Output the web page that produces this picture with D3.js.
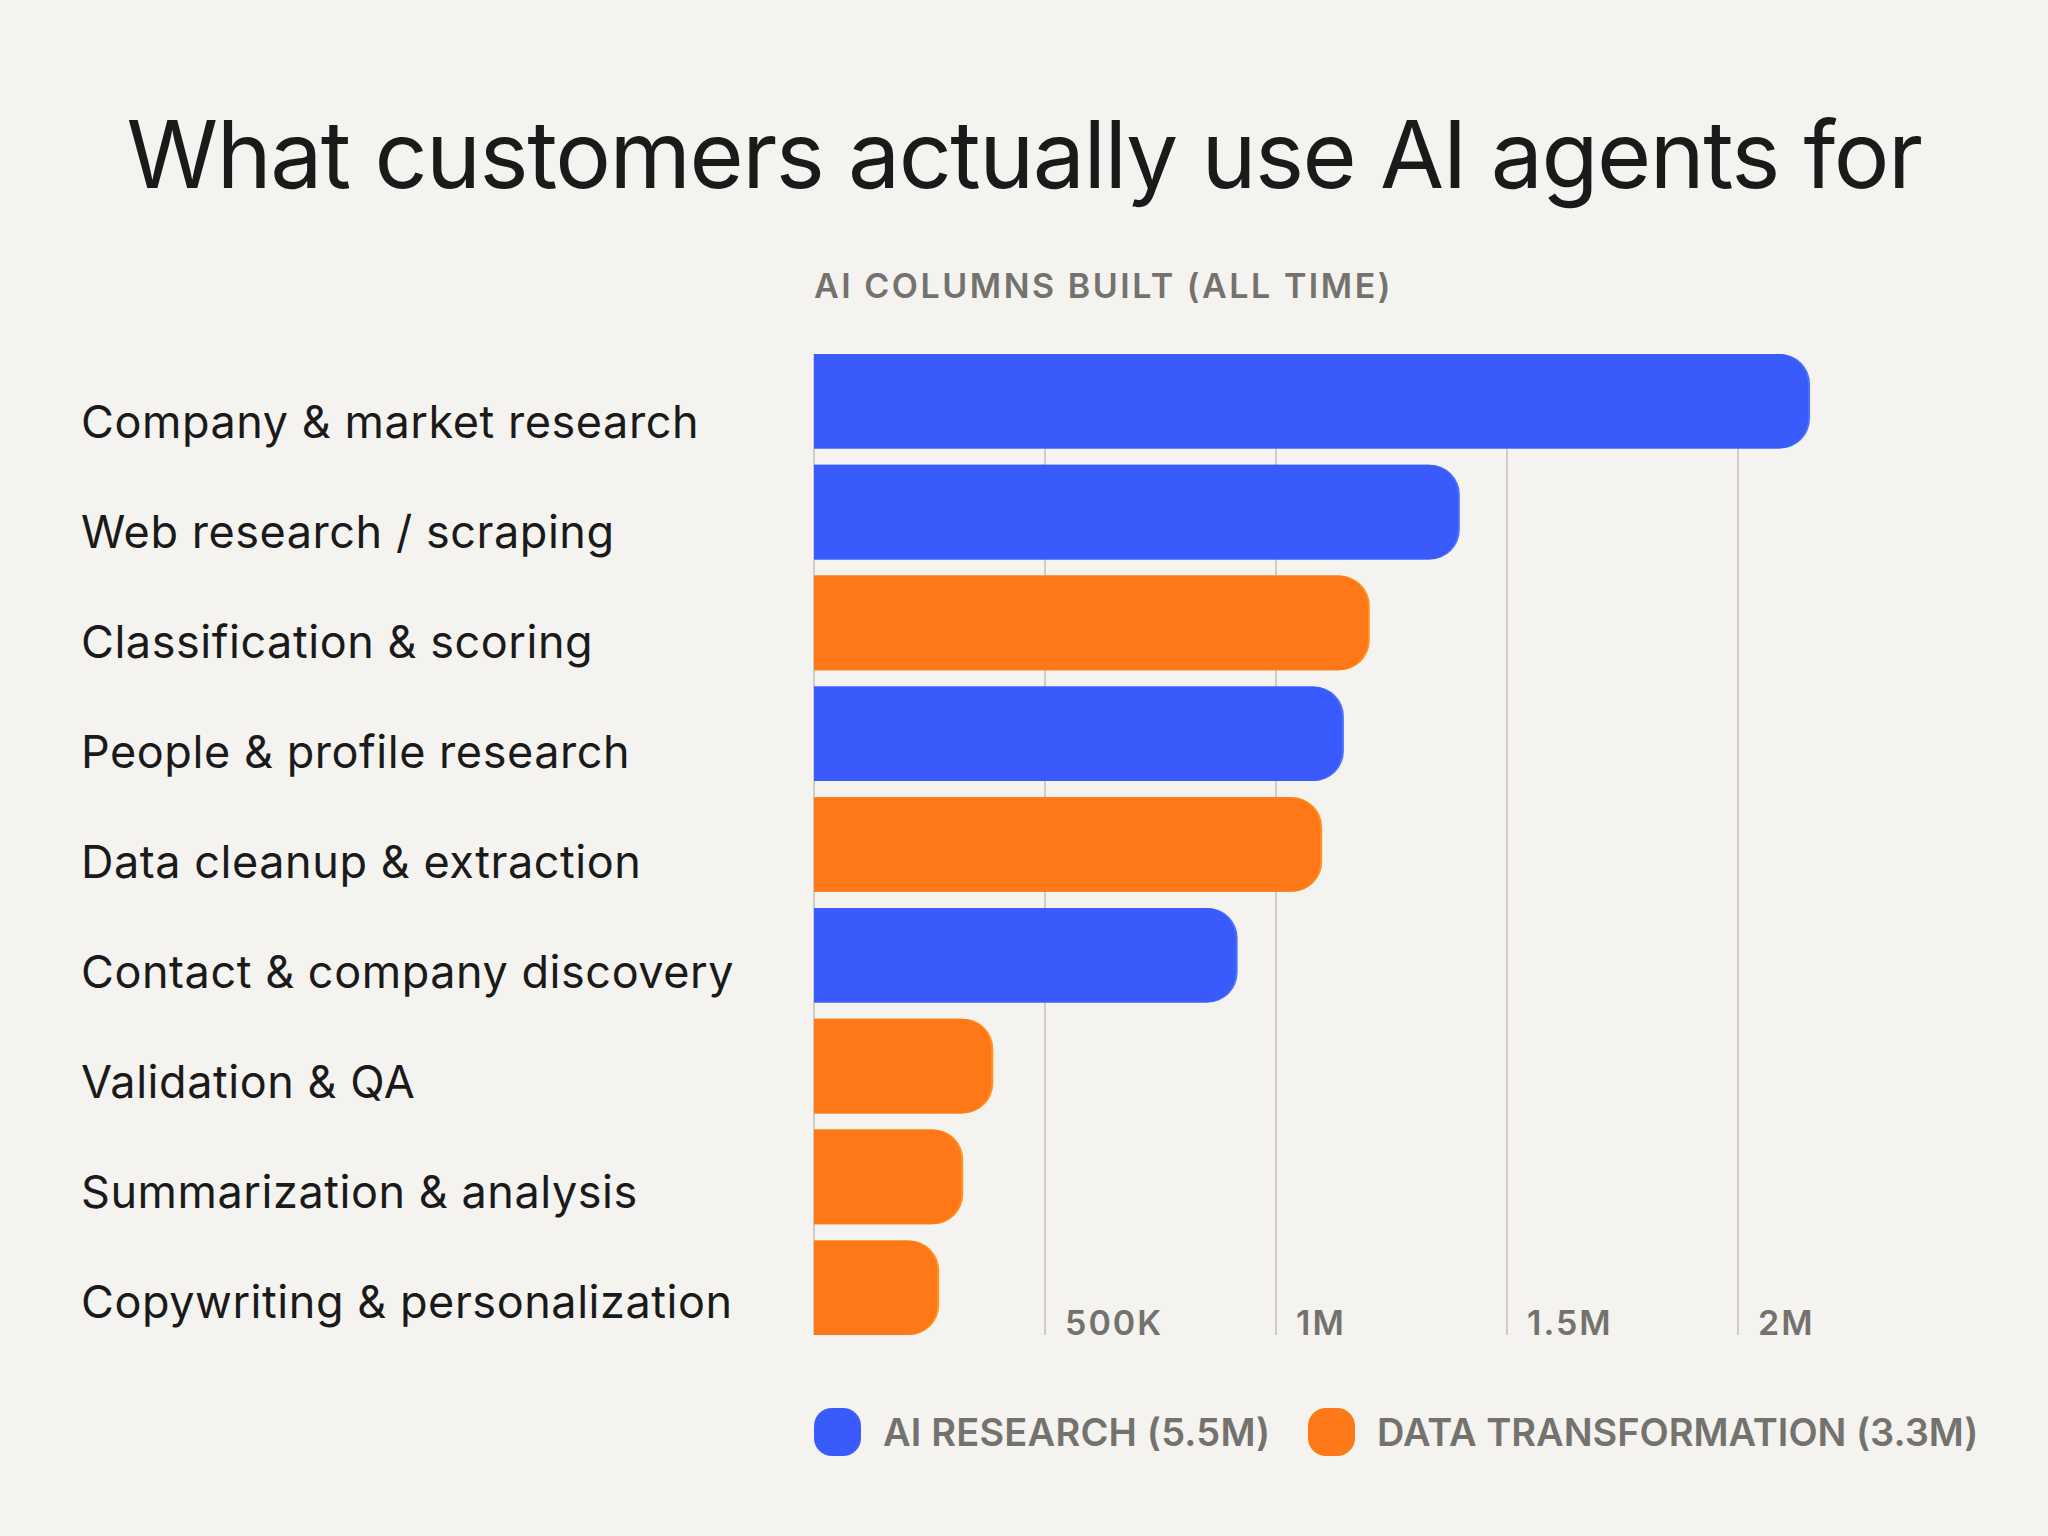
<!DOCTYPE html>
<html>
<head>
<meta charset="utf-8">
<script src="https://cdn.jsdelivr.net/npm/d3@7"></script>
<style>
  html, body { margin: 0; padding: 0; background: #f4f3ef; }
  svg { display: block; font-family: Inter, "Noto Sans", sans-serif; }
</style>
</head>
<body>
<div id="root"></div>
<script>
// Chart data
const categories = [
  "Company & market research",
  "Web research / scraping",
  "Classification & scoring",
  "People & profile research",
  "Data cleanup & extraction",
  "Contact & company discovery",
  "Validation & QA",
  "Summarization & analysis",
  "Copywriting & personalization"
];
// AI columns built, in millions
const values = [2.156, 1.398, 1.203, 1.147, 1.100, 0.917, 0.388, 0.323, 0.271];
// which group each category belongs to
const groups = ["ai", "ai", "dt", "ai", "dt", "ai", "dt", "dt", "dt"];
const groupNames = ["AI RESEARCH (5.5M)", "DATA TRANSFORMATION (3.3M)"];
const tickValues = [0.5, 1, 1.5, 2];
const tickLabels = ["500K", "1M", "1.5M", "2M"];

const width = 2048;
const height = 1536;
const colors = { ai: "#3a5bfb", dt: "#ff7818" };
const edge = { ai: "#4d72ff", dt: "#ff941c" };
const grey = "#74726d";

// The zero line sits at x=814 and 500K spans about 231px
const x = d3.scaleLinear().domain([0, 1]).range([814, 1276]);
const y = d3.scaleBand().domain(categories).range([354, 1335]).paddingInner(0.146);
// labels are spaced a touch tighter than the bars
const labelY = d3.scalePoint().domain(categories).range([438, 1318]);

const svg = d3.select("#root")
  .append("svg")
  .attr("width", width)
  .attr("height", height);

svg.append("rect").attr("width", width).attr("height", height).attr("fill", "#f4f3ef");

// fit a text element to a target width by tweaking letter spacing
function fit(sel, target) {
  sel.each(function () {
    const w = this.getComputedTextLength();
    const n = this.textContent.length;
    const ls = parseFloat(this.getAttribute("letter-spacing") || 0);
    this.setAttribute("letter-spacing", ls + (target - w) / n);
  });
}

svg.append("text")
  .attr("x", width / 2)
  .attr("y", 188)
  .attr("text-anchor", "middle")
  .attr("font-size", 93)
  .attr("fill", "#1a1a1a")
  .text("What customers actually use AI agents for")
  .call(fit, 1795);

svg.append("text")
  .attr("x", 814)
  .attr("y", 298)
  .attr("font-size", 34)
  .attr("font-weight", 600)
  .attr("fill", grey)
  .text("AI COLUMNS BUILT (ALL TIME)")
  .call(fit, 579);

// grid lines and zero line
svg.append("g")
  .selectAll("line")
  .data([0].concat(tickValues))
  .join("line")
  .attr("x1", d => x(d))
  .attr("x2", d => x(d))
  .attr("y1", y.range()[0])
  .attr("y2", y.range()[1])
  .attr("stroke", "#d0cdc7")
  .attr("stroke-width", 2);

// rounded-right bar path
function barPath(x0, x1, top, h, r) {
  r = Math.min(r, (x1 - x0), h / 2);
  return `M${x0},${top}H${x1 - r}A${r},${r} 0 0 1 ${x1},${top + r}V${top + h - r}A${r},${r} 0 0 1 ${x1 - r},${top + h}H${x0}Z`;
}

const bars = svg.append("g")
  .selectAll("g")
  .data(categories)
  .join("g");

bars.append("path")
  .attr("d", (d, i) => barPath(x(0), x(values[i]), y(d), y.bandwidth(), 30))
  .attr("fill", (d, i) => edge[groups[i]]);

bars.append("path")
  .attr("d", (d, i) => barPath(x(0), x(values[i]) - 2, y(d), y.bandwidth(), 30))
  .attr("fill", (d, i) => colors[groups[i]]);

// category labels
svg.append("g")
  .selectAll("text")
  .data(categories)
  .join("text")
  .attr("x", 81)
  .attr("y", d => labelY(d))
  .attr("font-size", 45)
  .attr("fill", "#1a1a1a")
  .attr("letter-spacing", 0.55)
  .text(d => d);

// tick labels at the bottom of each grid line
svg.append("g")
  .selectAll("text")
  .data(tickValues)
  .join("text")
  .attr("x", d => x(d) + 20)
  .attr("y", y.range()[1])
  .attr("font-size", 34)
  .attr("font-weight", 600)
  .attr("fill", grey)
  .attr("letter-spacing", 2)
  .text((d, i) => tickLabels[i]);

// legend
const legendX = [814, 1308];
const legendW = [387, 601];
const legend = svg.append("g")
  .selectAll("g")
  .data(["ai", "dt"])
  .join("g")
  .attr("transform", (d, i) => `translate(${legendX[i]},1408)`);

legend.append("rect")
  .attr("width", 47)
  .attr("height", 48)
  .attr("rx", 18)
  .attr("fill", d => colors[d]);

legend.append("text")
  .attr("x", 69)
  .attr("y", 38)
  .attr("font-size", 38)
  .attr("font-weight", 600)
  .attr("fill", grey)
  .text((d, i) => groupNames[i])
  .each(function (d, i) { d3.select(this).call(fit, legendW[i]); });
</script>
</body>
</html>
